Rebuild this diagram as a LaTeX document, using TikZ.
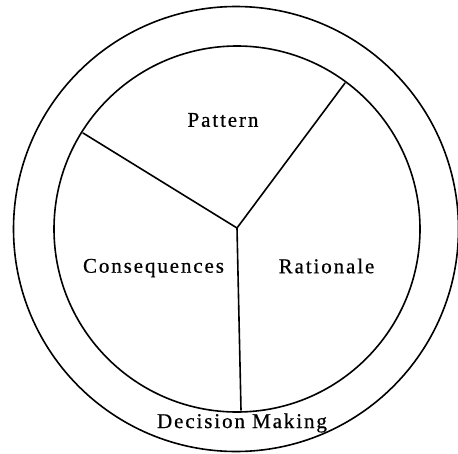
\documentclass[tikz,border=0pt]{standalone}
\usepackage{fontspec}
\setmainfont{Liberation Serif}
\begin{document}
\begin{tikzpicture}[x=1pt,y=-1pt,
  ring/.style={draw=black,line width=1.6pt},
  divider/.style={draw=black,line width=1.6pt,line cap=round},
  lbl/.style={font=\fontsize{21}{24}\selectfont\addfontfeature{LetterSpace=9,FakeBold=0.6}, inner sep=0pt}]
\useasboundingbox (0,0) rectangle (458,453);
\draw[ring] (236,229) circle (222.5);
\draw[ring] (237,229) circle (183);
\coordinate (hub) at (237,228);
\coordinate (pl) at (83,133);
\coordinate (pr) at (345,83);
\coordinate (pb) at (241,410);
\draw[divider] (hub) -- (pl);
\draw[divider] (hub) -- (pr);
\draw[divider] (hub) -- (pb);
\node[lbl] (pattern) at (223,120) {Pattern};
\node[lbl] (cons) at (153.5,268) {Consequences};
\node[lbl] (rat) at (326.5,266) {Rationale};
\node[lbl] (dm) at (242,423) {Decision Making};
\end{tikzpicture}
\end{document}
